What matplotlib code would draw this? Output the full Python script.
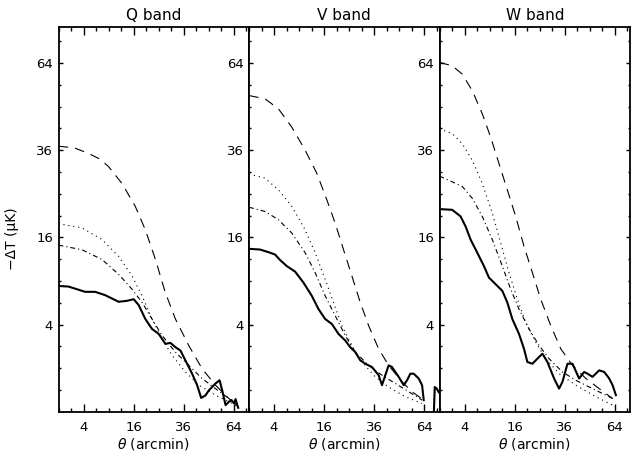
import numpy as np
import matplotlib
matplotlib.use('Agg')
import matplotlib.pyplot as plt
from matplotlib.ticker import FixedLocator, NullFormatter

plt.rcParams['font.family'] = 'DejaVu Sans'
plt.rcParams['lines.scale_dashes'] = False

# ---- data: theta (arcmin), -dT (uK) ----
bands = ['Q band', 'V band', 'W band']

# Q band
q_solid_th = [1.0, 1.96, 4.27, 6.08, 8.22, 11.56, 13.94, 16.0, 17.64, 19.95, 22.4, 25.0, 27.74,
              29.89, 32.11, 34.42, 36.8, 40.1, 42.68, 44.8, 47.15, 49.0, 52.8, 55.16, 56.75,
              58.78, 60.84, 62.52, 64.0, 65.07, 66.15, 66.8]
q_solid_dt = [8.32, 8.24, 7.56, 7.56, 7.14, 6.36, 6.47, 6.66, 5.98, 4.52, 3.60, 3.18, 2.42,
              2.49, 2.19, 1.97, 1.38, 0.76, 0.37, 0.10, 0.14, 0.24, 0.42, 0.52, 0.24,
              0.023, 0.052, 0.071, 0.036, 0.084, 0.023, 0.008]
q_dash_th = [1.0, 2.7, 4.84, 7.0, 9.0, 12.5, 16.5, 19.95, 23.7, 27.7, 32.1, 38.4, 45.3, 52.8,
             60.8, 67.2]
q_dash_dt = [37.1, 36.6, 35.1, 33.6, 31.6, 27.4, 22.2, 17.4, 12.2, 7.47, 4.52, 2.31, 0.97, 0.37,
             0.092, 0.013]
q_dot_th = [1.0, 3.74, 7.47, 11.56, 15.5, 18.8, 22.4, 26.4, 30.6, 36.8, 43.6, 52.8, 60.8, 67.2]
q_dot_dt = [18.6, 17.8, 15.6, 12.7, 9.69, 7.06, 4.52, 2.79, 1.67, 0.83, 0.37, 0.144, 0.052, 0.013]
q_dd_th = [1.0, 3.74, 7.47, 11.56, 15.5, 18.8, 22.4, 26.4, 32.1, 38.4, 45.3, 52.8, 60.8, 67.2]
q_dd_dt = [14.6, 13.8, 12.2, 9.93, 7.89, 6.28, 4.52, 3.05, 1.87, 1.13, 0.58, 0.28, 0.092, 0.013]

# V band
v_solid_th = [1.0, 2.07, 3.14, 4.16, 5.02, 6.29, 8.07, 10.07, 12.30, 14.24, 16.32, 18.55,
              20.91, 23.43, 25.40, 27.46, 29.59, 31.81, 34.89, 38.11, 39.78, 41.47, 43.2,
              44.98, 48.62, 51.45, 53.39, 55.35, 57.35, 60.42, 62.52, 63.57, 64.2,
              70.2, 70.78, 72.13, 73.5]
v_solid_dt = [13.96, 13.84, 13.4, 13.0, 12.1, 11.16, 10.32, 8.77, 7.06, 5.54, 4.52, 4.05,
              3.18, 2.67, 2.19, 1.87, 1.39, 1.21, 1.05, 0.70, 0.37, 0.70, 1.13,
              1.05, 0.64, 0.37, 0.52, 0.76, 0.76, 0.58, 0.37, 0.071, np.nan,
              0.0, 0.32, 0.28, 0.20]
v_dash_th = [1.0, 2.69, 4.72, 7.33, 10.5, 13.74, 16.87, 19.71, 22.78, 26.08, 29.59, 33.33,
             38.11, 43.2, 50.5, 56.35, 63.57]
v_dash_dt = [52.6, 51.5, 48.3, 42.6, 36.0, 29.9, 23.6, 18.7, 13.8, 9.69, 6.28, 3.90,
             2.08, 1.13, 0.47, 0.21, 0.071]
v_dot_th = [1.0, 2.69, 4.72, 7.33, 10.5, 13.25, 16.32, 19.12, 22.16, 26.08, 30.33, 36.48,
            43.2, 52.4, 62.5]
v_dot_dt = [29.7, 28.7, 25.9, 22.2, 17.4, 13.3, 9.22, 6.28, 3.90, 2.31, 1.30, 0.64,
            0.32, 0.117, 0.036]
v_dd_th = [1.0, 2.69, 4.72, 7.33, 10.5, 13.25, 16.32, 19.71, 23.43, 27.46, 33.33, 39.78,
           46.79, 54.36, 62.5]
v_dd_dt = [22.0, 21.1, 19.4, 16.8, 13.3, 10.17, 7.06, 4.85, 3.05, 1.87, 1.13, 0.70,
           0.42, 0.21, 0.071]

# W band
w_solid_th = [1.0, 2.27, 3.39, 4.16, 5.02, 6.29, 7.69, 8.84, 10.5, 12.3, 13.74, 15.26, 17.41,
              19.12, 20.31, 22.16, 24.08, 26.08, 28.16, 31.06, 33.33, 34.89, 37.30, 39.78,
              43.20, 45.87, 47.71, 50.51, 54.36, 57.35, 60.42, 62.52, 64.64]
w_solid_dt = [21.6, 21.45, 20.07, 18.08, 15.6, 13.3, 11.16, 9.46, 8.55, 7.68, 6.28, 4.52, 3.18,
              2.08, 1.30, 1.21, 1.48, 1.77, 1.30, 0.58, 0.28, 0.47, 1.21, 1.21,
              0.58, 0.83, 0.76, 0.64, 0.90, 0.83, 0.58, 0.37, 0.144]
w_dash_th = [1.0, 2.27, 3.64, 5.32, 7.33, 9.24, 11.38, 13.74, 16.32, 19.12, 22.16, 25.40,
             29.59, 34.11, 39.78, 46.79, 54.36, 62.52]
w_dash_dt = [64.2, 62.96, 59.98, 54.25, 46.7, 39.7, 32.4, 25.9, 20.07, 14.4, 10.17, 6.66,
             3.90, 2.08, 1.13, 0.58, 0.28, 0.092]
w_dot_th = [1.0, 2.27, 3.64, 5.32, 7.33, 9.65, 11.83, 14.24, 16.87, 19.71, 23.43, 27.46,
            33.33, 41.47, 52.42, 62.52]
w_dot_dt = [42.1, 40.7, 37.8, 33.3, 27.4, 20.8, 15.0, 10.17, 6.66, 4.20, 2.54, 1.48,
            0.76, 0.37, 0.117, 0.023]
w_dd_th = [1.0, 2.27, 3.64, 5.32, 7.33, 9.65, 12.30, 14.75, 17.41, 20.91, 24.73, 28.87,
           34.89, 41.47, 50.51, 62.52]
w_dd_dt = [29.2, 27.8, 26.7, 23.98, 20.07, 15.6, 11.16, 7.89, 5.54, 3.60, 2.31, 1.48,
           0.83, 0.52, 0.28, 0.092]

curves = [
    [(q_solid_th, q_solid_dt), (q_dash_th, q_dash_dt), (q_dot_th, q_dot_dt), (q_dd_th, q_dd_dt)],
    [(v_solid_th, v_solid_dt), (v_dash_th, v_dash_dt), (v_dot_th, v_dot_dt), (v_dd_th, v_dd_dt)],
    [(w_solid_th, w_solid_dt), (w_dash_th, w_dash_dt), (w_dot_th, w_dot_dt), (w_dd_th, w_dd_dt)],
]

major = [4, 16, 36, 64]
minor = [0.25, 1, 2.25, 6.25, 9, 12.25, 20.25, 25, 30.25, 42.25, 49, 56.25, 72.25]

styles = [
    dict(lw=1.5, ls='-'),
    dict(lw=0.8, ls=(0, (7, 5))),
    dict(lw=0.8, ls=(0, (0.8, 2.8))),
    dict(lw=0.8, ls=(0, (3.5, 2.2, 0.8, 2.2))),
]


def fwd(x):
    return np.sqrt(np.clip(x, 0, None))


def inv(x):
    return np.asarray(x) ** 2


fig = plt.figure(figsize=(6.31, 4.54), dpi=100)
W, H = 631, 454
x0, pw = 58.5, 190.5
ybot, ytop = 411.7, 26.7
for k in range(3):
    ax = fig.add_axes([(x0 + k * pw) / W, (H - ybot) / H, pw / W, (ybot - ytop) / H])
    for (th, dt), st in zip(curves[k], styles):
        ax.plot(th, dt, color='black', solid_joinstyle='round', **st)
    ax.set_xscale('function', functions=(fwd, inv))
    ax.set_yscale('function', functions=(fwd, inv))
    ax.set_xlim(1, 74)
    ax.set_ylim(0, 78)
    ax.xaxis.set_major_locator(FixedLocator(major))
    ax.xaxis.set_minor_locator(FixedLocator(minor))
    ax.yaxis.set_major_locator(FixedLocator(major))
    ax.yaxis.set_minor_locator(FixedLocator(minor))
    ax.set_xticklabels([str(m) for m in major])
    ax.set_yticklabels([str(m) for m in major])
    ax.xaxis.set_minor_formatter(NullFormatter())
    ax.yaxis.set_minor_formatter(NullFormatter())
    ax.tick_params(axis='x', which='major', direction='in', length=5.5, width=1,
                   top=True, labelsize=9.5, pad=7)
    ax.tick_params(axis='x', which='minor', direction='in', length=3, width=1, top=True)
    ax.tick_params(axis='y', which='major', direction='in', length=3, width=1,
                   right=(k == 2), labelsize=9.5, pad=4)
    ax.tick_params(axis='y', which='minor', direction='in', length=1.6, width=1, right=(k == 2))
    for sp in ax.spines.values():
        sp.set_linewidth(1.3)
    ax.set_title(bands[k], fontsize=11, pad=5)
    ax.set_xlabel(r'$\theta$ (arcmin)', fontsize=10, labelpad=1)
    if k == 0:
        ax.set_ylabel('\u2212\u0394T (\u03bcK)', fontsize=10)
        ax.yaxis.set_label_coords(-0.205, 0.45)

fig.savefig('out.png', dpi=100)
